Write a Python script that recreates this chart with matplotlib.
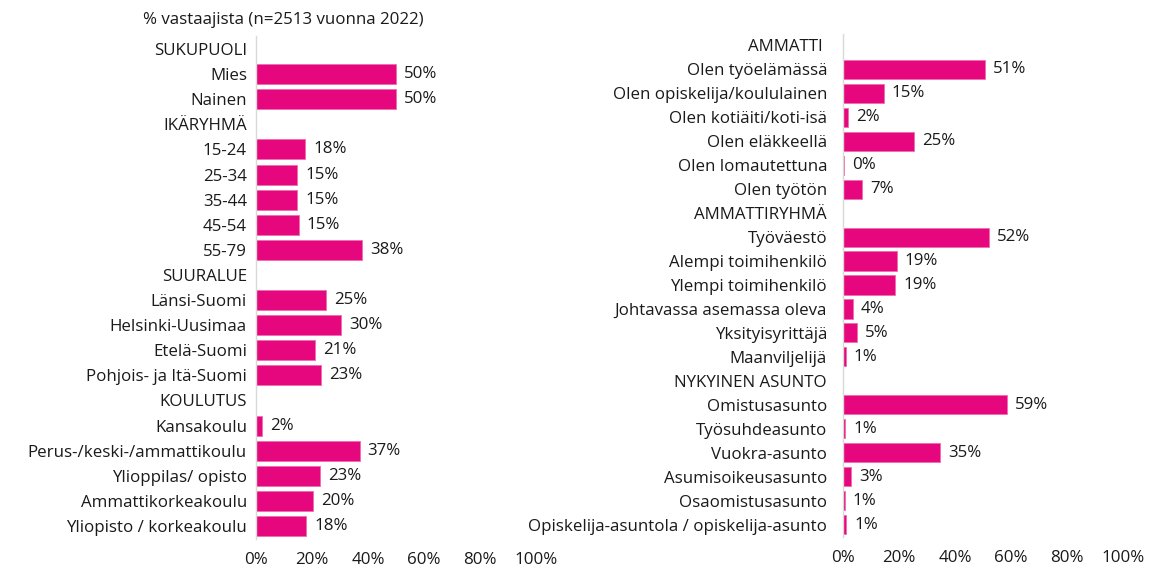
import matplotlib
matplotlib.use("Agg")
import matplotlib.pyplot as plt
from matplotlib.transforms import offset_copy

plt.rcParams['font.family'] = ['Open Sans', 'DejaVu Sans']
plt.rcParams['font.weight'] = 500

# ---- data ----
left_labels = ["SUKUPUOLI", "Mies", "Nainen", "IKÄRYHMÄ", "15-24", "25-34", "35-44",
               "45-54", "55-79", "SUURALUE", "Länsi-Suomi", "Helsinki-Uusimaa",
               "Etelä-Suomi", "Pohjois- ja Itä-Suomi", "KOULUTUS", "Kansakoulu",
               "Perus-/keski-/ammattikoulu", "Ylioppilas/ opisto", "Ammattikorkeakoulu",
               "Yliopisto / korkeakoulu"]
left_values = [None, 50, 50, None, 17.6, 14.8, 14.8, 15.3, 37.8, None, 25.0, 30.4,
               21.0, 23.2, None, 2.2, 37.0, 22.8, 20.3, 18.0]

right_labels = ["AMMATTI ", "Olen työelämässä", "Olen opiskelija/koululainen",
                "Olen kotiäiti/koti-isä", "Olen eläkkeellä", "Olen lomautettuna",
                "Olen työtön", "AMMATTIRYHMÄ", "Työväestö", "Alempi toimihenkilö",
                "Ylempi toimihenkilö", "Johtavassa asemassa oleva", "Yksityisyrittäjä",
                "Maanviljelijä", "NYKYINEN ASUNTO", "Omistusasunto", "Työsuhdeasunto",
                "Vuokra-asunto", "Asumisoikeusasunto", "Osaomistusasunto",
                "Opiskelija-asuntola / opiskelija-asunto"]
right_values = [None, 50.8, 14.6, 1.8, 25.3, 0.3, 6.9, None, 52.0, 19.2, 18.6, 3.6,
                5.1, 0.9, None, 58.7, 0.7, 34.8, 2.9, 0.6, 1.1]

ticks = [0, 20, 40, 60, 80, 100]
tick_labels = ["0%", "20%", "40%", "60%", "80%", "100%"]
title_text = "% vastaajista (n=2513 vuonna 2022)"

BAR = "#E6077E"
EDGE = "#F06BB0"
TXT = "#1a1a1a"
FS = 12.2

fig = plt.figure(figsize=(11.52, 5.67), dpi=100)
W, H = 1152, 567

def make_panel(rect, labels, values, label_pad):
    ax = fig.add_axes(rect)
    n = len(labels)
    ys = list(range(n))
    for y, v in zip(ys, values):
        if v is None:
            continue
        ax.barh(y, v, height=0.8, color=BAR, edgecolor=EDGE, linewidth=0.6)
        ax.text(v, y, f"{round(v)}%", va="center", ha="left", fontsize=FS, color=TXT,
                transform=offset_copy(ax.transData, fig=fig, x=8, y=0, units="dots"))
    ax.set_xlim(0, 100)
    ax.set_ylim(n - 0.5, -0.5)
    ax.set_yticks(ys)
    ax.set_yticklabels(labels, fontsize=FS, color=TXT)
    ax.set_xticks(ticks)
    ax.set_xticklabels(tick_labels, fontsize=FS, color=TXT)
    ax.tick_params(axis="y", length=0, pad=label_pad)
    ax.tick_params(axis="x", length=0, pad=10)
    for s in ["top", "right", "bottom"]:
        ax.spines[s].set_visible(False)
    ax.spines["left"].set_color("#d9d9d9")
    ax.spines["left"].set_linewidth(1.0)
    ax.patch.set_alpha(0)
    return ax

# left panel: rows spacing ~25.1 px
make_panel([256 / W, 1 - 538.5 / H, 280 / W, 502 / H], left_labels, left_values, 6.5)
# right panel
make_panel([843 / W, 1 - 536.5 / H, 280 / W, 503 / H], right_labels, right_values, 11.5)

fig.text(283 / W, 1 - 20 / H, title_text, ha="center", va="center", fontsize=FS, color=TXT)

fig.savefig("out.png", dpi=100)
